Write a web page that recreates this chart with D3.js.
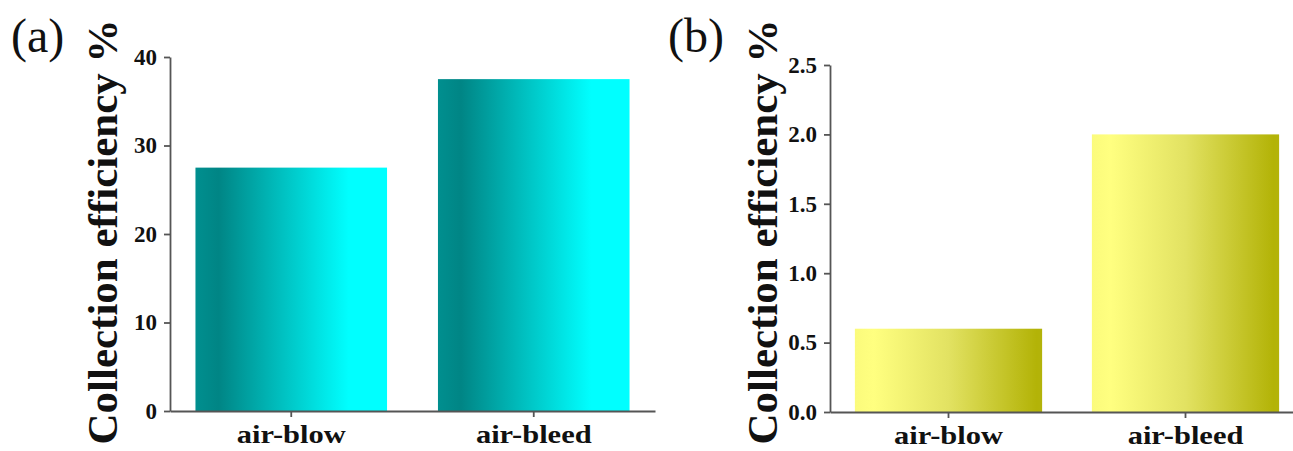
<!DOCTYPE html>
<html>
<head>
<meta charset="utf-8">
<script src="https://cdn.jsdelivr.net/npm/d3@7"></script>
<style>
  html, body { margin: 0; padding: 0; background: #fff; }
  svg { display: block; }
  text { font-family: "Liberation Serif", "Times New Roman", serif; fill: #111; }
</style>
</head>
<body>
<svg id="chart" width="1293" height="451"></svg>
<script>
// Collection efficiency (%) for the two collection modes
const categories = ["air-blow", "air-bleed"];
const efficiencyA = [27.5, 37.5];
const efficiencyB = [0.6, 2.0];
const ticksA = [0, 10, 20, 30, 40];
const ticksB = [0, 0.5, 1.0, 1.5, 2.0, 2.5];
const panelLabels = ["(a)", "(b)"];
const yTitle = "Collection efficiency %";

const svg = d3.select("#chart");
const defs = svg.append("defs");

// horizontal gradients for the bars
function gradient(id, stops) {
  const g = defs.append("linearGradient").attr("id", id)
    .attr("x1", "0%").attr("x2", "100%").attr("y1", "0%").attr("y2", "0%");
  stops.forEach(([o, c]) => g.append("stop").attr("offset", o).attr("stop-color", c));
}
gradient("tealGrad", [["0%", "#008f8f"], ["12%", "#008585"], ["80%", "#00ffff"], ["100%", "#00ffff"]]);
gradient("yellowGrad", [["0%", "#fbfb7c"], ["10%", "#ffff80"], ["50%", "#e2e262"], ["97%", "#b3b307"], ["100%", "#b3b30a"]]);

function panel(cfg) {
  const g = svg.append("g");
  const x = d3.scaleBand().domain(categories).range(cfg.xRange)
    .paddingInner(0.21).paddingOuter(0.105);
  const y = d3.scaleLinear().domain(cfg.yDomain).range(cfg.yRange);

  // bars
  g.selectAll("rect.bar").data(categories).join("rect")
    .attr("class", "bar")
    .attr("x", d => x(d))
    .attr("width", x.bandwidth())
    .attr("y", (d, i) => y(cfg.values[i]))
    .attr("height", (d, i) => y(0) - y(cfg.values[i]))
    .attr("fill", `url(#${cfg.grad})`);

  // y axis
  const yAxis = g.append("g")
    .attr("transform", `translate(${cfg.xRange[0]},0)`)
    .call(d3.axisLeft(y).tickValues(cfg.ticks).tickFormat(cfg.fmt)
      .tickSize(6).tickSizeOuter(0).tickPadding(7));
  yAxis.selectAll("path, line").attr("stroke", "#555").attr("stroke-width", 1.8);
  yAxis.selectAll("text")
    .attr("font-size", 23).attr("font-weight", "bold")
    .attr("font-family", "Liberation Serif, Times New Roman, serif")
    .attr("fill", "#111");

  // x axis
  const xAxis = g.append("g")
    .attr("transform", `translate(0,${cfg.yRange[0]})`)
    .call(d3.axisBottom(x).tickSize(6).tickSizeOuter(0));
  xAxis.selectAll("path, line").attr("stroke", "#555").attr("stroke-width", 1.8);
  xAxis.selectAll("text")
    .attr("font-size", 25).attr("font-weight", "bold")
    .attr("font-family", "Liberation Serif, Times New Roman, serif")
    .attr("fill", "#111")
    .attr("dy", 0).attr("y", 0)
    .attr("transform", "translate(0,32) scale(1.22,1)");

  // axis title
  g.append("text")
    .attr("transform", `translate(${cfg.titleX},232) rotate(-90)`)
    .attr("text-anchor", "middle")
    .attr("font-size", 43).attr("font-weight", "bold")
    .text(yTitle);

  // panel label
  g.append("text")
    .attr("x", cfg.labelX).attr("y", 52)
    .attr("font-size", 48)
    .text(cfg.label);
}

panel({
  values: efficiencyA, ticks: ticksA, fmt: d3.format("d"),
  xRange: [170, 655], yDomain: [0, 40], yRange: [411, 57],
  grad: "tealGrad", titleX: 117, labelX: 11, label: panelLabels[0]
});
panel({
  values: efficiencyB, ticks: ticksB, fmt: d3.format(".1f"),
  xRange: [830, 1304], yDomain: [0, 2.5], yRange: [412, 65],
  grad: "yellowGrad", titleX: 777, labelX: 668, label: panelLabels[1]
});
</script>
</body>
</html>
